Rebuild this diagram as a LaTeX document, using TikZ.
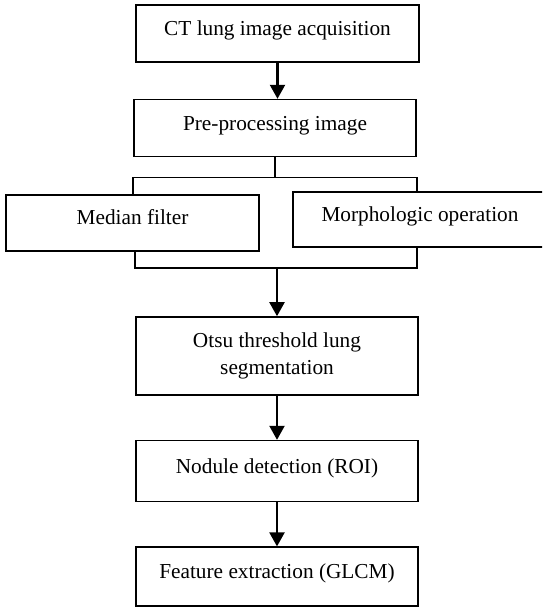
\documentclass[tikz,border=0pt]{standalone}
\usepackage{fontspec}
\setmainfont{Liberation Serif}
\usetikzlibrary{arrows.meta, positioning}

\begin{document}
\begin{tikzpicture}[x=1pt, y=-1pt, thick]

	\tikzset{
		stage/.style={
				rectangle, draw=black, line width=1.6pt, inner sep=0pt, minimum width=282pt, minimum height=57pt,
				font=\fontsize{21.3}{27}\selectfont, text height=14pt, text depth=10pt
			},
		flow/.style={
				-{Triangle[length=14pt, width=15pt]}, line width=2.2pt
			},
		branch/.style={
				line width=1.6pt
			},
	}
	\path[use as bounding box, clip] (0,0) rectangle (542,609);

	\node[stage, minimum width=283pt](ct) at (277.5,33.5){CT lung image acquisition};
	\node[stage, below=36pt of ct, xshift=-2.5pt](pre){Pre-processing image};

	\node[stage, minimum width=253pt, minimum height=56pt](med) at (132.5,223){Median filter};
	\node[stage, minimum width=254pt, minimum height=55pt](morph) at (420,219.5){Morphologic operation};

	\node[stage, minimum height=78pt, align=center, text height={}, text depth={}](otsu) at (277,356){Otsu threshold lung\\segmentation};
	\node[stage, below=44pt of otsu, minimum height=61pt](nod){Nodule detection (ROI)};
	\node[stage, below=44pt of nod, minimum height=59pt](feat){Feature extraction (GLCM)};

	\coordinate[below=20pt of pre.south](fork);
	\coordinate[above=48pt of otsu.north](join);

	\draw[flow] (ct.south) -- (ct.south |- pre.north);
	\draw[branch] (pre.south) -- (fork);
	\draw[branch] (med.north -| pre.west) -- (pre.west |- fork) -- (pre.east |- fork) -- (morph.north -| pre.east);
	\draw[branch] (med.south -| otsu.west) -- (otsu.west |- join) -- (pre.east |- join) -- (pre.east |- morph.south);
	\draw[flow] (join) -- (otsu.north);
	\draw[flow] (otsu) -- (nod);
	\draw[flow] (nod) -- (feat);

\end{tikzpicture}
\end{document}
